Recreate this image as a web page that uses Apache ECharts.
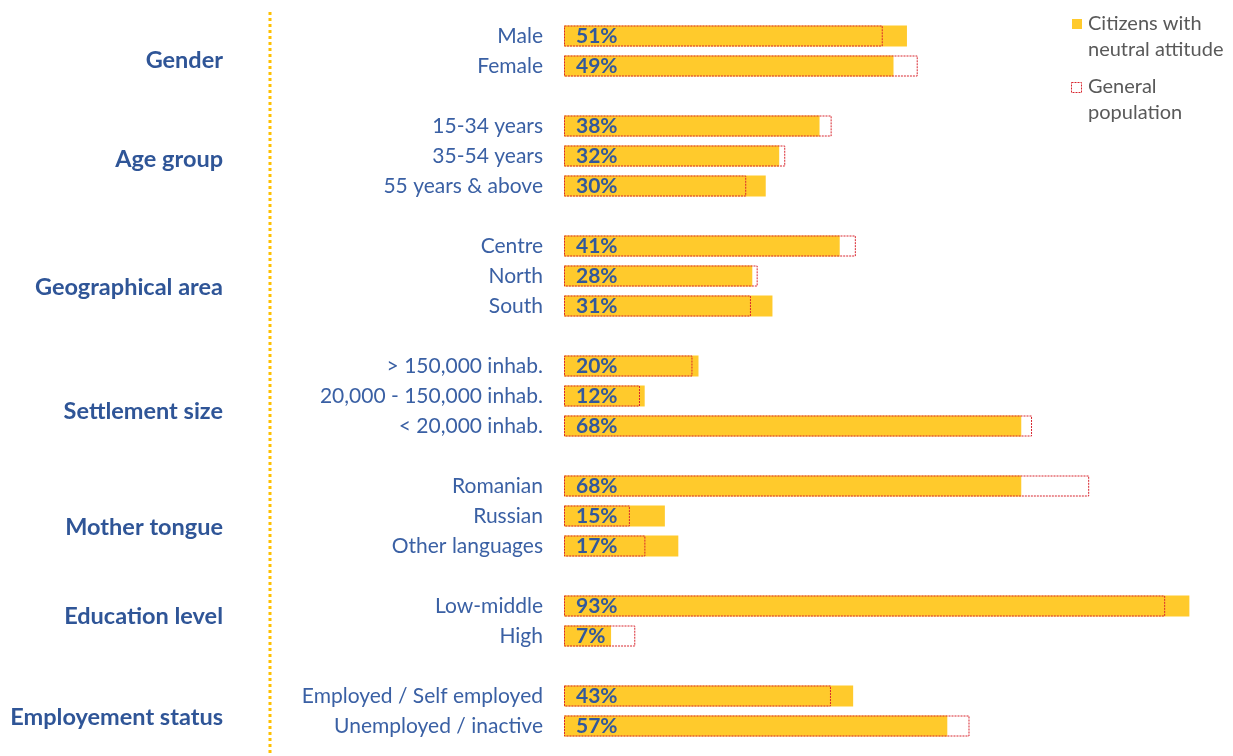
<!DOCTYPE html>
<html>
<head>
<meta charset="utf-8">
<script src="https://cdn.jsdelivr.net/npm/echarts@6/dist/echarts.min.js"></script>
<style>
  html, body { margin: 0; padding: 0; background: #fff; }
  #chart { width: 1233px; height: 756px; }
</style>
</head>
<body>
<div id="chart"></div>
<script>
// Rows of the profile; empty strings are spacer rows between groups.
const categories = [
  'Male', 'Female', '',
  '15-34 years', '35-54 years', '55 years & above', '',
  'Centre', 'North', 'South', '',
  '> 150,000 inhab.', '20,000 - 150,000 inhab.', '< 20,000 inhab.', '',
  'Romanian', 'Russian', 'Other languages', '',
  'Low-middle', 'High', '',
  'Employed / Self employed', 'Unemployed / inactive'
];

// Share of citizens with a neutral attitude (%)
const neutralShare = [
  51, 49, null,
  38, 32, 30, null,
  41, 28, 31, null,
  20, 12, 68, null,
  68, 15, 17, null,
  93, 7, null,
  43, 57
];

// Share in the general population (%)
const generalShare = [
  47.4, 52.6, null,
  39.8, 32.9, 27.1, null,
  43.4, 28.8, 27.8, null,
  19.1, 11.3, 69.6, null,
  78.1, 9.8, 12.1, null,
  89.4, 10.6, null,
  39.7, 60.3
];

// Group headings
const groupLabels = [
  'Gender', 'Age group', 'Geographical area', 'Settlement size',
  'Mother tongue', 'Education level', 'Employement status'
];
const groupLabelY = [60, 159, 287, 411, 527, 616, 717];

const seriesNames = ['Citizens with\nneutral attitude', 'General\npopulation'];

const BLUE = '#2F5597';
const LABEL_BLUE = '#3A60A4';
const YELLOW = '#FFCA2C';
const RED = '#D8262F';
const FONT = 'Lato';

const toSeriesData = arr => arr.map(v => (v === null ? '-' : v));

const chart = echarts.init(document.getElementById('chart'), null, { renderer: 'canvas' });

const graphics = [
  // dotted divider between headings and rows
  {
    type: 'line',
    shape: { x1: 270, y1: 12, x2: 270, y2: 756 },
    style: { stroke: '#FFC000', lineWidth: 3, lineDash: [3, 3] },
    silent: true
  }
];

groupLabels.forEach((txt, i) => {
  graphics.push({
    type: 'text',
    x: 223,
    y: groupLabelY[i],
    style: {
      text: txt,
      align: 'right',
      verticalAlign: 'middle',
      fill: BLUE,
      font: 'bold 23.5px ' + FONT
    },
    silent: true
  });
});

// legend: swatch + two-line caption per series
graphics.push(
  {
    type: 'rect',
    shape: { x: 1072, y: 19, width: 10, height: 10 },
    style: { fill: YELLOW },
    silent: true
  },
  {
    type: 'text',
    x: 1088, y: 11,
    style: {
      text: seriesNames[0], fill: '#595959', font: '20px ' + FONT,
      verticalAlign: 'top', lineHeight: 26
    },
    silent: true
  },
  {
    type: 'rect',
    shape: { x: 1071.5, y: 82.5, width: 10, height: 10 },
    style: { fill: 'none', stroke: RED, lineWidth: 1, lineDash: [2, 1] },
    silent: true
  },
  {
    type: 'text',
    x: 1088, y: 74,
    style: {
      text: seriesNames[1], fill: '#595959', font: '20px ' + FONT,
      verticalAlign: 'top', lineHeight: 26
    },
    silent: true
  }
);

const option = {
  animation: false,
  backgroundColor: '#ffffff',
  grid: { left: 564, right: 10, top: 21, bottom: 15, containLabel: false },
  xAxis: {
    type: 'value',
    min: 0,
    max: 98,
    show: false
  },
  yAxis: {
    type: 'category',
    inverse: true,
    data: categories,
    axisLine: { show: false },
    axisTick: { show: false },
    splitLine: { show: false },
    axisLabel: {
      color: LABEL_BLUE,
      fontFamily: FONT,
      fontSize: 21,
      margin: 21
    }
  },
  series: [
    {
      name: seriesNames[0],
      type: 'bar',
      data: toSeriesData(neutralShare),
      barWidth: 21,
      barGap: '-100%',
      itemStyle: { color: YELLOW },
      label: {
        show: true,
        position: 'insideLeft',
        distance: 12,
        formatter: '{c}%',
        color: '#32589C',
        fontFamily: FONT,
        fontWeight: 'bold',
        fontSize: 21
      },
      z: 2
    },
    {
      name: seriesNames[1],
      type: 'bar',
      data: toSeriesData(generalShare),
      barWidth: 21,
      barGap: '-100%',
      itemStyle: {
        color: 'rgba(0,0,0,0)',
        borderColor: RED,
        borderWidth: 1,
        borderType: [2, 1]
      },
      z: 3
    }
  ],
  graphic: graphics
};

chart.setOption(option);
</script>
</body>
</html>
